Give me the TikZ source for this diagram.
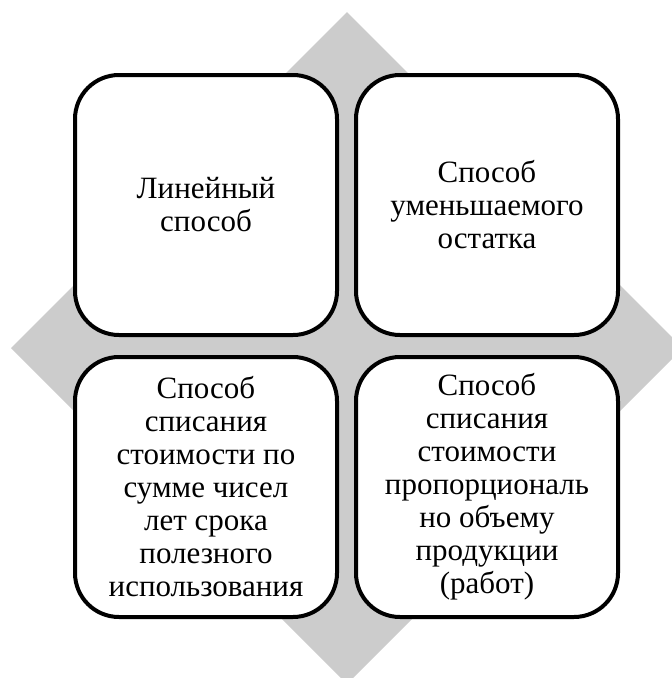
\documentclass[tikz,border=0pt]{standalone}
\usepackage{fontspec}
\newfontfamily\boxfont{Liberation Serif}
\definecolor{diamondGray}{HTML}{CCCCCC}
\begin{document}
\begin{tikzpicture}
        [x=1pt, y=-1pt,
        box/.style={rectangle, rounded corners=44pt, draw, line width=4pt, fill=white,
            minimum width=262pt, minimum height=260pt, align=center,
            font=\boxfont\fontsize{31pt}{33pt}\selectfont}]
        \useasboundingbox (0,0) rectangle (672,678);
        \fill[diamondGray] (347,12) -- (683,348) -- (347,684) -- (11,348) -- cycle;
        \node[box] (A) at (206,205) {Линейный\\способ};
        \node[box] (B) at (487,205) {Способ\\уменьшаемого\\остатка};
        \node[box] (C) at (206,487) {Способ\\списания\\стоимости по\\сумме чисел\\лет срока\\полезного\\использования};
        \node[box] (D) at (487,487) {Способ\\списания\\стоимости\\пропорциональ\\но объему\\продукции\\(работ)};
    \end{tikzpicture}
\end{document}
